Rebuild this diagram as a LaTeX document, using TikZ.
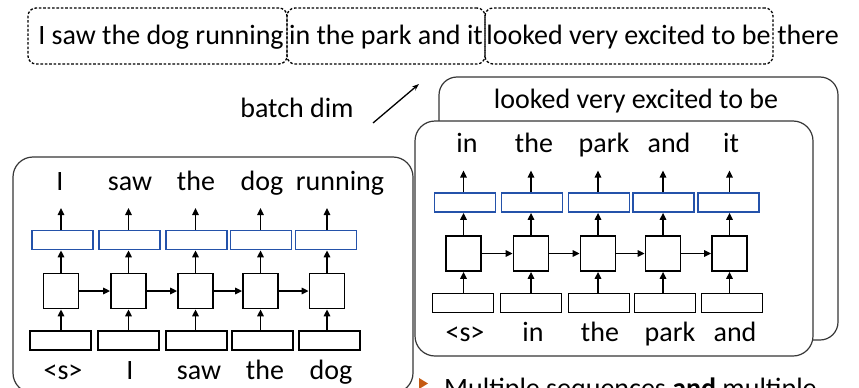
\documentclass[tikz,border=0pt]{standalone}
\usepackage{fontspec}
\setmainfont{Carlito}
\usetikzlibrary{arrows.meta}
\definecolor{boxblue}{RGB}{36,82,170}
\definecolor{panelgray}{RGB}{55,55,55}
\definecolor{bulletorange}{RGB}{197,90,17}
\tikzset{
  txt/.style={font=\fontsize{28}{34}\selectfont, inner sep=0pt, anchor=base},
  dashbox/.style={draw=black, dash pattern=on 2.6pt off 1.8pt, line width=1.3pt, rounded corners=8pt, minimum height=56pt, inner sep=0pt},
  panel/.style={draw=panelgray, line width=1.2pt, rounded corners=20pt, fill=white},
  hid/.style={draw=black, line width=1.8pt, minimum width=35pt, minimum height=35pt, inner sep=0pt},
  outbox/.style={draw=boxblue, line width=1.8pt, minimum width=61pt, minimum height=19pt, inner sep=0pt},
  inbox/.style={draw=black, line width=1.8pt, minimum width=61pt, minimum height=19pt, inner sep=0pt},
  arr/.style={line width=1.5pt, -{Triangle[length=7pt,width=6.5pt]}},
  thinarr/.style={line width=1.3pt, -{Stealth[length=7pt,width=5pt]}}
}
\newcommand\rnnpanel[3]{%
  \foreach \i/\hx/\bx/\ix in {1/61/62.5/60.5, 2/128.5/129.5/128.5, 3/195.5/196.5/196.5, 4/260.5/261/262.5, 5/327/326/329.5}{
    \node[hid] (#1h\i) at (\hx,291) {};
    \node[outbox] (#1o\i) at (\bx,240) {};
    \node[inbox] (#1x\i) at (\ix,340.5) {};
    \coordinate (#1t\i) at (\hx,208);
    \draw[arr] (#1h\i.center |- #1x\i.north) -- (#1h\i.south);
    \draw[arr] (#1h\i.north) -- (#1h\i.center |- #1o\i.south);
    \draw[arr] (#1h\i.center |- #1o\i.north) -- (#1t\i);
  }
  \foreach \i [evaluate=\i as \j using int(\i+1)] in {1,...,4}
    \draw[arr] (#1h\i) -- (#1h\j);
  \foreach \i/\x/\t in {#2} \node[txt] (#1a\i) at (\x,190) {\t};
  \foreach \i/\x/\t in {#3} \node[txt] (#1b\i) at (\x,379) {\t};
}
\begin{document}
\begin{tikzpicture}[x=1pt,y=-1pt]
\useasboundingbox (0,0) rectangle (859,388);
\clip (0,0) rectangle (859,388);
\fill[white] (0,0) rectangle (859,388);

% top row
\node[dashbox, minimum width=259pt] (b1) at (157.5,36) {};
\node[dashbox, minimum width=198pt] (b2) at (386,36) {};
\node[dashbox, minimum width=288pt] (b3) at (629,36) {};
\node[txt] (s1) at (161,44) {I saw the dog running};
\node[txt] (s2) at (386,44) {in the park and it};
\node[txt] (s3) at (628.5,44) {looked very excited to be};
\node[txt] (s4) at (808,44) {there};

% batch dim
\node[txt] (bd) at (297,117) {batch dim};
\coordinate (ba) at (373,123);
\coordinate (bb) at (419,84);
\draw[thinarr] (ba) -- (bb);

% left panel
\path[panel] (13,157) rectangle (413,393);
\begin{scope}
\rnnpanel{L}{1/60/I, 2/130/saw, 3/196/the, 4/262/dog, 5/340/running}{1/63/<s>, 2/130/I, 3/199/saw, 4/265/the, 5/331/dog}
\end{scope}

% back panel
\path[panel, rounded corners=18pt] (439,77) rectangle (838,340);
\node[txt] (bk) at (636,108) {looked very excited to be};

% front panel
\path[panel] (415,121) rectangle (813,356);
\begin{scope}[shift={(402.5,-37.5)}]
\rnnpanel{R}{1/64.5/in, 2/131.5/the, 3/201.5/park, 4/266.5/and, 5/328.5/it}{1/62.5/<s>, 2/130.5/in, 3/197.5/the, 4/267.5/park, 5/332.5/and}
\end{scope}

% bullet line (cut off)
\fill[bulletorange] (419,378) -- (428,383.5) -- (419,389) -- cycle;
\node[txt, anchor=base west] (ml) at (444,397) {Multiple sequences \textbf{and} multiple};
\end{tikzpicture}
\end{document}
